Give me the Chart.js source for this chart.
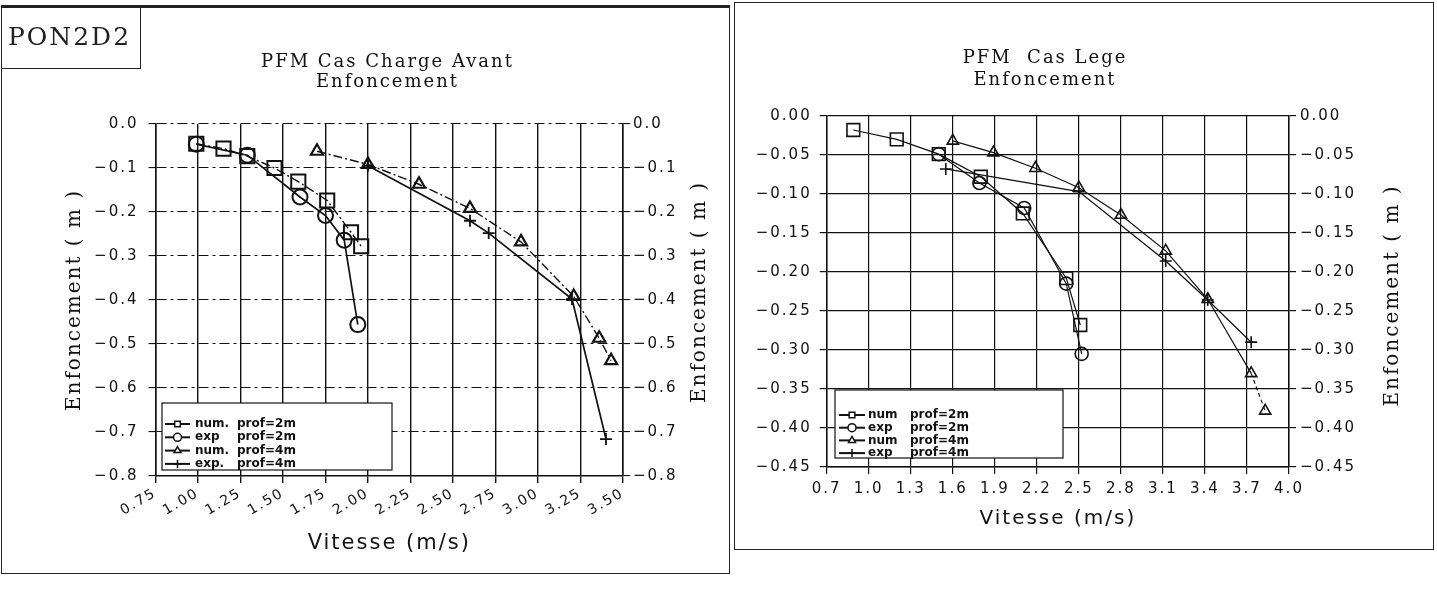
<!DOCTYPE html>
<html>
<head>
<meta charset="utf-8">
<script src="https://cdn.jsdelivr.net/npm/chart.js@4.4.1/dist/chart.umd.min.js"></script>
<style>
  body { margin: 0; background: #fff; width: 1437px; height: 593px; overflow: hidden; position: relative; }
  .panel { position: absolute; box-sizing: border-box; border: 1.5px solid #222; }
  #panelAvant { left: 1px; top: 5px; width: 729px; height: 569px; border-top-width: 3px; }
  #panelLege { left: 734px; top: 2px; width: 700px; height: 548px; }
  #tag { position: absolute; left: 1px; top: 7px; width: 140px; height: 62px; box-sizing: border-box;
         border: 1.5px solid #222; font: 25px "DejaVu Serif"; letter-spacing: 2px; color: #222;
         line-height: 58px; padding-left: 6px; }
  canvas { position: absolute; top: 0; }
</style>
</head>
<body>
<div class="panel" id="panelAvant"></div>
<div class="panel" id="panelLege"></div>
<canvas id="chartAvant" width="727" height="578" style="left:0"></canvas>
<canvas id="chartLege" width="702" height="560" style="left:735px"></canvas>
<div id="tag">PON2D2</div>
<script>
// Cas charge avant : vitesse (m/s) / enfoncement (m)
const vitNum2Avant = [0.99, 1.15, 1.29, 1.45, 1.59, 1.76, 1.90, 1.96];
const enfNum2Avant = [-0.045, -0.056, -0.073, -0.100, -0.131, -0.174, -0.246, -0.278];
const vitExp2Avant = [0.99, 1.29, 1.60, 1.75, 1.86, 1.94];
const enfExp2Avant = [-0.046, -0.071, -0.166, -0.208, -0.264, -0.456];
const vitNum4Avant = [1.70, 2.00, 2.30, 2.60, 2.90, 3.21, 3.36, 3.43];
const enfNum4Avant = [-0.062, -0.092, -0.137, -0.192, -0.268, -0.392, -0.487, -0.538];
const vitExp4Avant = [2.00, 2.60, 2.71, 3.20, 3.40];
const enfExp4Avant = [-0.095, -0.220, -0.248, -0.398, -0.716];

// Cas lege
const vitNum2Lege = [0.89, 1.20, 1.50, 1.80, 2.10, 2.41, 2.51];
const enfNum2Lege = [-0.018, -0.030, -0.049, -0.078, -0.125, -0.208, -0.268];
const vitExp2Lege = [1.50, 1.79, 2.11, 2.41, 2.52];
const enfExp2Lege = [-0.049, -0.086, -0.118, -0.215, -0.305];
const vitNum4Lege = [1.60, 1.89, 2.19, 2.50, 2.80, 3.12, 3.42, 3.73, 3.83];
const enfNum4Lege = [-0.032, -0.047, -0.067, -0.092, -0.127, -0.173, -0.235, -0.330, -0.378];
const vitExp4Lege = [1.55, 2.50, 3.12, 3.42, 3.73];
const enfExp4Lege = [-0.068, -0.097, -0.186, -0.236, -0.290];

// graduations
const ticksVitAvant = [0.75, 1.00, 1.25, 1.50, 1.75, 2.00, 2.25, 2.50, 2.75, 3.00, 3.25, 3.50];
const ticksEnfAvant = [0, -0.1, -0.2, -0.3, -0.4, -0.5, -0.6, -0.7, -0.8];
const ticksVitLege = [0.7, 1.0, 1.3, 1.6, 1.9, 2.2, 2.5, 2.8, 3.1, 3.4, 3.7, 4.0];
const ticksEnfLege = [0, -0.05, -0.10, -0.15, -0.20, -0.25, -0.30, -0.35, -0.40, -0.45];

// legendes
const legNomsAvant = ['num.', 'exp', 'num.', 'exp.'];
const legNomsLege = ['num', 'exp', 'num', 'exp'];
const legProfs = ['prof=2m', 'prof=2m', 'prof=4m', 'prof=4m'];

const ink = '#111';

function pts(xs, ys) {
  return xs.map((x, i) => ({ x, y: ys[i] }));
}

function serie(label, xs, ys, look) {
  return Object.assign({
    label,
    data: pts(xs, ys),
    showLine: true,
    tension: 0,
    clip: false,
    borderColor: ink,
    pointBorderColor: ink,
    pointBackgroundColor: 'rgba(0,0,0,0)',
    pointHoverRadius: 0
  }, look);
}

function signed(v, d) {
  const s = Math.abs(v).toFixed(d);
  return v < -1e-9 ? '\u2212' + s : s;
}

function fixedTicks(values) {
  return axis => { axis.ticks = values.map(value => ({ value })); };
}

// right-hand axis title (read bottom to top) and the boxed legend inside the plot
const plotterText = {
  id: 'plotterText',
  beforeDraw(chart) {
    chart.ctx.letterSpacing = '2px';
  },
  afterDraw(chart, args, opts) {
    const ctx = chart.ctx;
    const area = chart.chartArea;

    ctx.save();
    ctx.fillStyle = ink;
    ctx.font = opts.sideFont;
    ctx.textAlign = 'center';
    ctx.textBaseline = 'middle';
    ctx.translate(opts.sideX, (area.top + area.bottom) / 2 + opts.sideShift);
    ctx.rotate(-Math.PI / 2);
    ctx.fillText(opts.sideText, 0, 0);
    ctx.restore();

    const lg = opts.legend;
    ctx.save();
    ctx.letterSpacing = '0px';
    ctx.fillStyle = '#fff';
    ctx.fillRect(lg.x, lg.y, lg.w, lg.h);
    ctx.strokeStyle = ink;
    ctx.lineWidth = 1.2;
    ctx.strokeRect(lg.x, lg.y, lg.w, lg.h);
    ctx.font = lg.font;
    ctx.textBaseline = 'middle';
    ctx.textAlign = 'left';
    chart.data.datasets.forEach((ds, i) => {
      const y = lg.y + lg.first + i * lg.step;
      ctx.setLineDash([]);
      ctx.strokeStyle = ink;
      ctx.lineWidth = 2;
      ctx.beginPath();
      ctx.moveTo(lg.x + lg.lineFrom, y);
      ctx.lineTo(lg.x + lg.lineTo, y);
      ctx.stroke();
      ctx.lineWidth = 1.5;
      ctx.fillStyle = '#fff';
      Chart.helpers.drawPoint(ctx, { pointStyle: ds.pointStyle, radius: lg.mark, borderWidth: 1.5, rotation: 0 },
        lg.x + (lg.lineFrom + lg.lineTo) / 2, y);
      ctx.fillStyle = ink;
      ctx.fillText(lg.names[i], lg.x + lg.nameAt, y);
      ctx.fillText(legProfs[i], lg.x + lg.profAt, y);
    });
    ctx.restore();
    ctx.letterSpacing = '0px';
  }
};

const tickFont = { family: 'DejaVu Sans', size: 15 };

// ---- PFM Cas Charge Avant ----
new Chart(document.getElementById('chartAvant'), {
  type: 'scatter',
  data: {
    datasets: [
      serie('num. prof=2m', vitNum2Avant, enfNum2Avant,
        { pointStyle: 'rect', pointRadius: 10, pointBorderWidth: 2, borderWidth: 1.4, borderDash: [9, 3, 2, 3] }),
      serie('exp prof=2m', vitExp2Avant, enfExp2Avant,
        { pointStyle: 'circle', pointRadius: 7.5, pointBorderWidth: 2, borderWidth: 1.7 }),
      serie('num. prof=4m', vitNum4Avant, enfNum4Avant,
        { pointStyle: 'triangle', pointRadius: 7, pointBorderWidth: 2.2, borderWidth: 1.4, borderDash: [9, 3, 2, 3] }),
      serie('exp. prof=4m', vitExp4Avant, enfExp4Avant,
        { pointStyle: 'cross', pointRadius: 6, pointBorderWidth: 1.8, borderWidth: 1.7 })
    ]
  },
  options: {
    responsive: false,
    animation: false,
    events: [],
    layout: { padding: { left: 48, right: 0, top: 0, bottom: 0 } },
    plugins: {
      legend: { display: false },
      tooltip: { enabled: false },
      title: {
        display: true,
        text: ['PFM Cas Charge Avant', 'Enfoncement'],
        color: ink,
        font: { family: 'DejaVu Serif', size: 18, weight: 'normal', lineHeight: 1.11 },
        padding: { top: 52, bottom: 32 }
      },
      plotterText: {
        sideText: 'Enfoncement ( m )',
        sideFont: '20px "DejaVu Serif"',
        sideX: 700,
        sideShift: -8,
        legend: {
          x: 162, y: 403, w: 230, h: 67, first: 21, step: 13.3,
          lineFrom: 3, lineTo: 28, nameAt: 33, profAt: 75, mark: 4,
          font: 'bold 12px "DejaVu Sans"', names: legNomsAvant
        }
      }
    },
    scales: {
      x: {
        type: 'linear', min: 0.75, max: 3.5,
        afterBuildTicks: fixedTicks(ticksVitAvant),
        afterFit: axis => { axis.height = 102; },
        ticks: { color: ink, font: { family: 'DejaVu Sans', size: 14 }, minRotation: 30, maxRotation: 30,
                 autoSkip: false, padding: 2, callback: v => v.toFixed(2) },
        grid: { color: ink, lineWidth: 1.4, tickLength: 7 },
        border: { color: ink, width: 1.5 },
        title: { display: true, text: 'Vitesse (m/s)', color: ink,
                 font: { family: 'DejaVu Sans', size: 21, lineHeight: 1.2 }, padding: { top: 0, bottom: 22 } }
      },
      y: {
        position: 'left', min: -0.8, max: 0,
        afterBuildTicks: fixedTicks(ticksEnfAvant),
        afterFit: axis => { axis.width = 107.5; },
        ticks: { color: ink, font: tickFont, padding: 10, callback: v => signed(v, 1) },
        grid: { color: ink, lineWidth: 1.1, tickLength: 7, borderDash: [10, 4, 3, 4], tickBorderDash: [] },
        border: { color: ink, width: 1.5, dash: [10, 4, 3, 4] },
        title: { display: true, text: 'Enfoncement ( m )', color: ink,
                 font: { family: 'DejaVu Serif', size: 20, lineHeight: 1.2 }, padding: { top: 15, bottom: 0 } }
      },
      y2: {
        position: 'right', min: -0.8, max: 0,
        afterBuildTicks: fixedTicks(ticksEnfAvant),
        afterFit: axis => { axis.width = 104; },
        ticks: { color: ink, font: tickFont, padding: 3, callback: v => signed(v, 1) },
        grid: { color: ink, lineWidth: 1.1, tickLength: 7, drawOnChartArea: false },
        border: { color: ink, width: 1.5 }
      }
    }
  },
  plugins: [plotterText]
});

// ---- PFM Cas Lege ----
new Chart(document.getElementById('chartLege'), {
  type: 'scatter',
  data: {
    datasets: [
      serie('num prof=2m', vitNum2Lege, enfNum2Lege,
        { pointStyle: 'rect', pointRadius: 9, pointBorderWidth: 1.6, borderWidth: 1.2 }),
      serie('exp prof=2m', vitExp2Lege, enfExp2Lege,
        { pointStyle: 'circle', pointRadius: 6.5, pointBorderWidth: 1.6, borderWidth: 1.2 }),
      serie('num prof=4m', vitNum4Lege, enfNum4Lege,
        { pointStyle: 'triangle', pointRadius: 6.5, pointBorderWidth: 1.6, borderWidth: 1.2,
          segment: { borderDash: c => (c.p1DataIndex === vitNum4Lege.length - 1 ? [4, 3] : undefined) } }),
      serie('exp prof=4m', vitExp4Lege, enfExp4Lege,
        { pointStyle: 'cross', pointRadius: 6, pointBorderWidth: 1.6, borderWidth: 1.3 })
    ]
  },
  options: {
    responsive: false,
    animation: false,
    events: [],
    layout: { padding: { left: 0, right: 82, top: 0, bottom: 0 } },
    plugins: {
      legend: { display: false },
      tooltip: { enabled: false },
      title: {
        display: true,
        text: ['PFM  Cas Lege', 'Enfoncement'],
        color: ink,
        font: { family: 'DejaVu Serif', size: 18, weight: 'normal', lineHeight: 1.22 },
        padding: { top: 47, bottom: 25 }
      },
      plotterText: {
        sideText: 'Enfoncement ( m )',
        sideFont: '20px "DejaVu Serif"',
        sideX: 658,
        sideShift: 4,
        legend: {
          x: 100, y: 390, w: 228, h: 68, first: 25, step: 12.7,
          lineFrom: 4, lineTo: 30, nameAt: 33, profAt: 75, mark: 4,
          font: 'bold 12px "DejaVu Sans"', names: legNomsLege
        }
      }
    },
    scales: {
      x: {
        type: 'linear', min: 0.7, max: 4.0,
        afterBuildTicks: fixedTicks(ticksVitLege),
        afterFit: axis => { axis.height = 93; },
        ticks: { color: ink, font: tickFont, maxRotation: 0, autoSkip: false, padding: 6,
                 callback: v => v.toFixed(1) },
        grid: { color: ink, lineWidth: 1.2, tickLength: 7 },
        border: { color: ink, width: 1.5 },
        title: { display: true, text: 'Vitesse (m/s)', color: ink,
                 font: { family: 'DejaVu Sans', size: 20, lineHeight: 1.2 }, padding: { top: 0, bottom: 29 } }
      },
      y: {
        position: 'left', min: -0.45, max: 0,
        afterBuildTicks: fixedTicks(ticksEnfLege),
        afterFit: axis => { axis.width = 91.7; },
        ticks: { color: ink, font: tickFont, padding: 8, callback: v => signed(v, 2) },
        grid: { color: ink, lineWidth: 1.2, tickLength: 7 },
        border: { color: ink, width: 1.5 }
      },
      y2: {
        position: 'right', min: -0.45, max: 0,
        afterBuildTicks: fixedTicks(ticksEnfLege),
        afterFit: axis => { axis.width = 66; },
        ticks: { color: ink, font: tickFont, padding: 4, callback: v => signed(v, 2) },
        grid: { color: ink, lineWidth: 1.2, tickLength: 7, drawOnChartArea: false },
        border: { color: ink, width: 1.5 }
      }
    }
  },
  plugins: [plotterText]
});
</script>
</body>
</html>
